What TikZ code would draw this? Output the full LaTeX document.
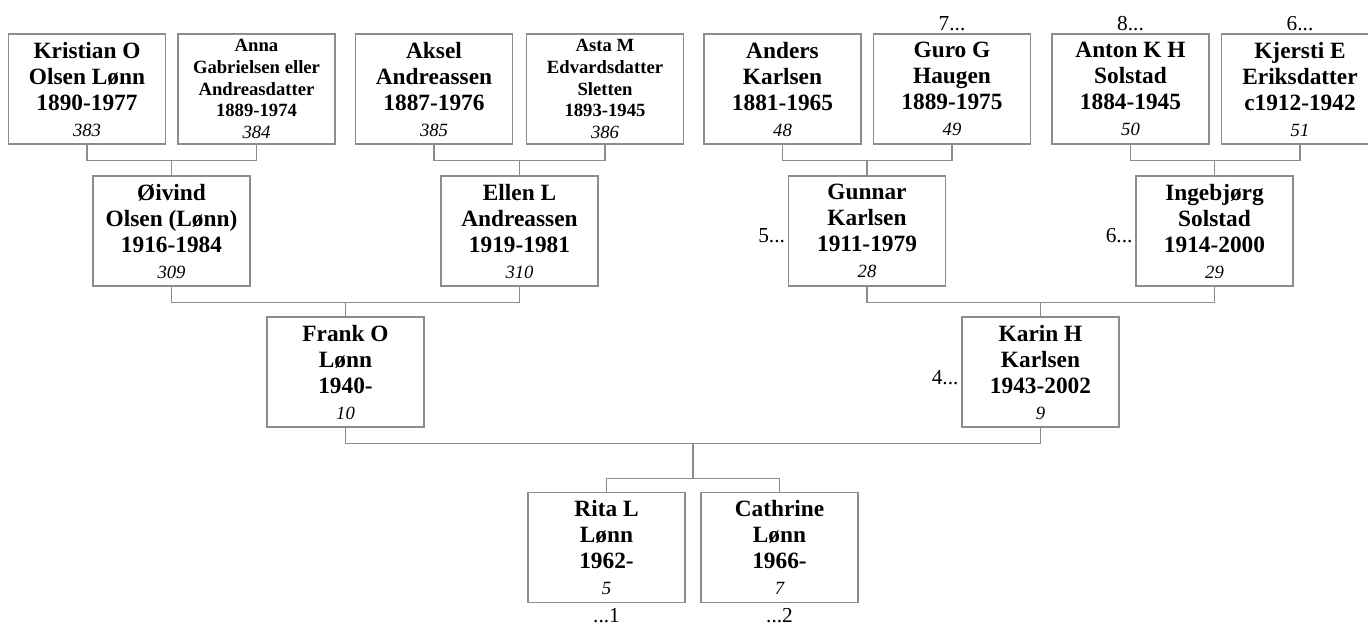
\documentclass[tikz,border=0pt]{standalone}
\usepackage{fontspec}
\setmainfont{Liberation Serif}
\usepackage{xcolor}
\definecolor{linegray}{HTML}{8C8C8C}
\usetikzlibrary{calc}
\newcommand{\refno}[1]{{\normalfont\itshape\fontsize{14}{15}\selectfont #1}}
\newcommand{\couple}[3]{%
    \draw[link] (#1.south) -- ++(0,15.5) coordinate (#3bar) -| (#2.south);
    \draw[link] (#3.north) -- (#3.north |- #3bar);
}

\begin{document}
\begin{tikzpicture}[x=0.75pt, y=-0.75pt,
        person/.style={draw=linegray, line width=0.9pt, fill=white, rectangle,
            minimum width=157*0.75pt, minimum height=110*0.75pt, inner sep=0pt,
            align=center, font=\fontsize{17.5}{19.5}\selectfont\bfseries},
        smallperson/.style={person, font=\fontsize{14}{16.3}\selectfont\bfseries},
        link/.style={draw=linegray, line width=0.9pt},
        more/.style={font=\fontsize{16}{18}\selectfont, inner sep=2pt}]
        \useasboundingbox (0,0) rectangle (1368,626);
        % grandparents' parents
        \node[person] (kristian) at (87,89) {Kristian O\\Olsen Lønn\\1890-1977\\\refno{383}};
        \node[smallperson] (anna) at (256.5,89) {Anna\\Gabrielsen eller\\Andreasdatter\\1889-1974\\\refno{384}};
        \node[person] (aksel) at (434,89) {Aksel\\Andreassen\\1887-1976\\\refno{385}};
        \node[smallperson] (asta) at (605,89) {Asta M\\Edvardsdatter\\Sletten\\1893-1945\\\refno{386}};
        \node[person] (anders) at (782.5,89) {Anders\\Karlsen\\1881-1965\\\refno{48}};
        \node[person] (guro) at (952,89) {Guro G\\Haugen\\1889-1975\\\refno{49}};
        \node[person] (anton) at (1130.5,89) {Anton K H\\Solstad\\1884-1945\\\refno{50}};
        \node[person] (kjersti) at (1300,89) {Kjersti E\\Eriksdatter\\c1912-1942\\\refno{51}};
        % grandparents
        \node[person] (oivind) at (171.5,231) {Øivind\\Olsen (Lønn)\\1916-1984\\\refno{309}};
        \node[person] (ellen) at (519.5,231) {Ellen L\\Andreassen\\1919-1981\\\refno{310}};
        \node[person] (gunnar) at (867,231) {Gunnar\\Karlsen\\1911-1979\\\refno{28}};
        \node[person] (ingebjorg) at (1214.5,231) {Ingebjørg\\Solstad\\1914-2000\\\refno{29}};
        % parents
        \node[person] (frank) at (345.5,372) {Frank O\\Lønn\\1940-\\\refno{10}};
        \node[person] (karin) at (1040.5,372) {Karin H\\Karlsen\\1943-2002\\\refno{9}};
        % children
        \node[person] (rita) at (606.5,547.5) {Rita L\\Lønn\\1962-\\\refno{5}};
        \node[person] (cathrine) at (779.5,547.5) {Cathrine\\Lønn\\1966-\\\refno{7}};
        % continuation marks
        \node[more, above] (guromore) at (guro.north) {7...};
        \node[more, above] (antonmore) at (anton.north) {8...};
        \node[more, above] (kjerstimore) at (kjersti.north) {6...};
        \node[more, left] (gunnarmore) at ($(gunnar.west)+(0,5)$) {5...};
        \node[more, left] (ingebjorgmore) at ($(ingebjorg.west)+(0,5)$) {6...};
        \node[more, left] (karinmore) at ($(karin.west)+(0,6)$) {4...};
        \node[more, below, inner sep=4pt] (ritamore) at (rita.south) {...1};
        \node[more, below, inner sep=4pt] (cathrinemore) at (cathrine.south) {...2};
        % family lines
        \couple{kristian}{anna}{oivind}
        \couple{aksel}{asta}{ellen}
        \couple{anders}{guro}{gunnar}
        \couple{anton}{kjersti}{ingebjorg}
        \couple{oivind}{ellen}{frank}
        \couple{gunnar}{ingebjorg}{karin}
        \draw[link] (frank.south) -- ++(0,16) coordinate (kidsbar) -| (karin.south);
        \coordinate (kidsmid) at ($(frank.south)!0.5!(karin.south)$);
        \draw[link] (kidsmid |- kidsbar) -- ++(0,35) coordinate (kidsjoin);
        \draw[link] (rita.north) |- (kidsjoin) -| (cathrine.north);
\end{tikzpicture}
\end{document}
